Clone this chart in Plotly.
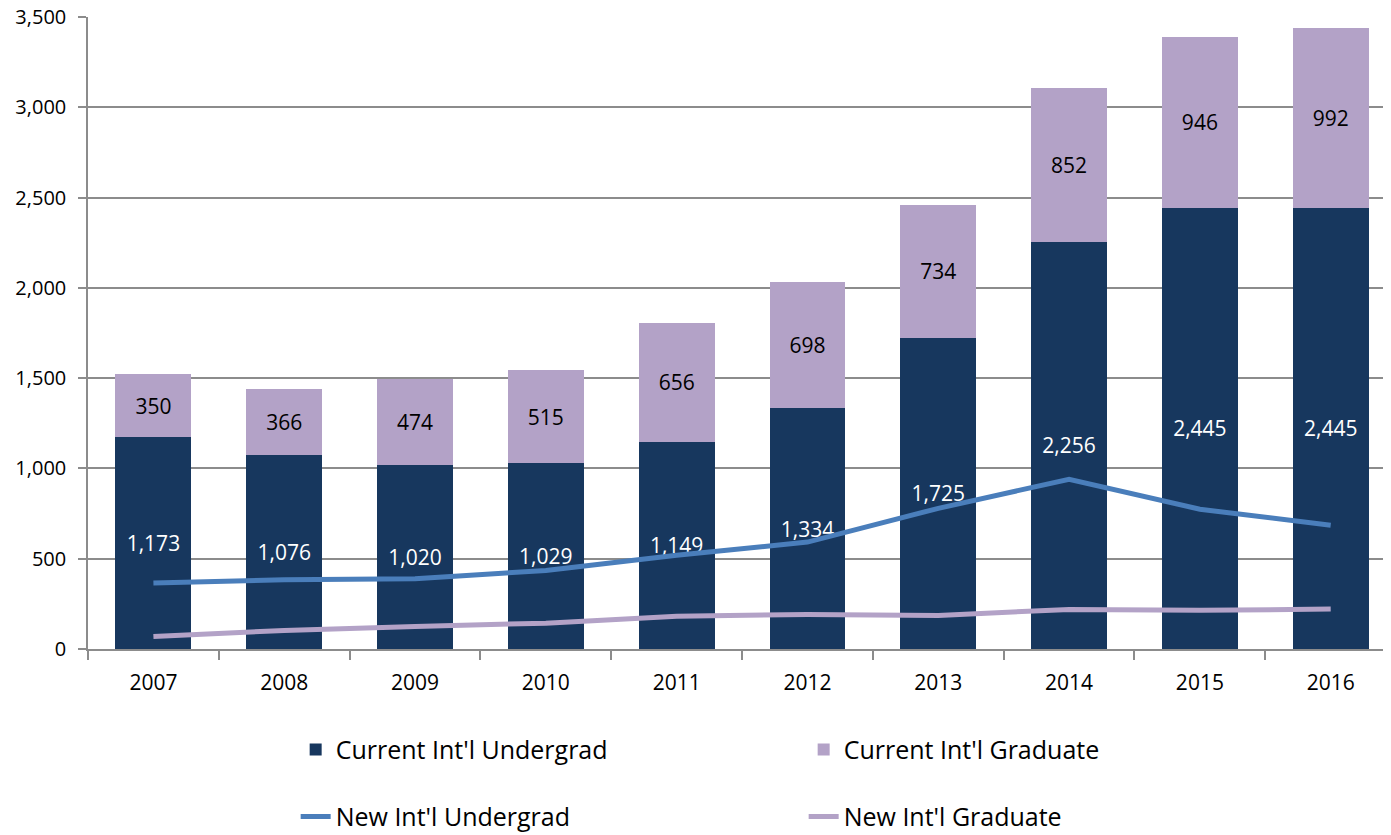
import plotly.graph_objects as go

years = ["2007", "2008", "2009", "2010", "2011", "2012", "2013", "2014", "2015", "2016"]
cur_undergrad = [1173, 1076, 1020, 1029, 1149, 1334, 1725, 2256, 2445, 2445]
cur_graduate = [350, 366, 474, 515, 656, 698, 734, 852, 946, 992]
new_undergrad = [365, 384, 389, 435, 519, 592, 779, 940, 774, 685]
new_graduate = [69, 103, 125, 143, 182, 191, 186, 219, 214, 221]

FONT = "Open Sans"
NAVY = "#17375E"
LILAC = "#B3A2C7"
BLUE = "#4A7EBB"
GRID = "#8C8C8C"

fig = go.Figure()
fig.add_trace(go.Bar(
    x=years, y=cur_undergrad, name="Current Int'l Undergrad",
    marker=dict(color=NAVY, line=dict(width=0)),
    texttemplate="%{y:,}", textposition="inside", insidetextanchor="middle",
    textangle=0, constraintext="none",
    textfont=dict(family=FONT, size=21, color="white"),
    legend="legend", hoverinfo="skip",
))
fig.add_trace(go.Bar(
    x=years, y=cur_graduate, name="Current Int'l Graduate",
    marker=dict(color=LILAC, line=dict(width=0)),
    texttemplate="%{y:,}", textposition="inside", insidetextanchor="middle",
    textangle=0, constraintext="none",
    textfont=dict(family=FONT, size=21, color="black"),
    legend="legend", hoverinfo="skip",
))
fig.add_trace(go.Scatter(
    x=years, y=new_undergrad, name="New Int'l Undergrad", mode="lines",
    line=dict(color=BLUE, width=5), legend="legend2", hoverinfo="skip",
))
fig.add_trace(go.Scatter(
    x=years, y=new_graduate, name="New Int'l Graduate", mode="lines",
    line=dict(color=LILAC, width=5), legend="legend2", hoverinfo="skip",
))

fig.update_layout(
    width=1383, height=827,
    barmode="stack", bargap=0.42,
    paper_bgcolor="white", plot_bgcolor="white",
    margin=dict(l=80, r=0, t=9, b=186, autoexpand=False),
    font=dict(family=FONT, size=20, color="black"),
    showlegend=True,
    legend=dict(
        orientation="h", xref="container", yref="container",
        x=0.208, y=0.103, xanchor="left", yanchor="middle",
        entrywidth=463, entrywidthmode="pixels",
        font=dict(family=FONT, size=25, color="black"),
        bgcolor="rgba(0,0,0,0)", traceorder="normal",
    ),
    legend2=dict(
        orientation="h", xref="container", yref="container",
        x=0.208, y=0.022, xanchor="left", yanchor="middle",
        entrywidth=463, entrywidthmode="pixels",
        font=dict(family=FONT, size=25, color="black"),
        bgcolor="rgba(0,0,0,0)", traceorder="normal",
    ),
)

fig.update_xaxes(
    type="category", range=[-0.5, 9.461],
    showgrid=False, showline=True, linecolor=GRID, linewidth=1.5,
    ticks="outside", tickson="boundaries", ticklen=9, tickcolor=GRID, tickwidth=1.5,
    tickfont=dict(family=FONT, size=21, color="black"),
    ticklabelstandoff=14, automargin=False,
)
fig.update_yaxes(
    range=[0, 3500], dtick=500, tickformat=",",
    showgrid=True, gridcolor=GRID, gridwidth=1.5,
    showline=True, linecolor=GRID, linewidth=1.5,
    ticks="outside", ticklen=8, tickcolor=GRID, tickwidth=1.5,
    tickfont=dict(family=FONT, size=20, color="black"),
    zeroline=False, ticklabelstandoff=8, ticklabeloverflow="allow",
    automargin=False,
)

fig.write_html("out.html")
